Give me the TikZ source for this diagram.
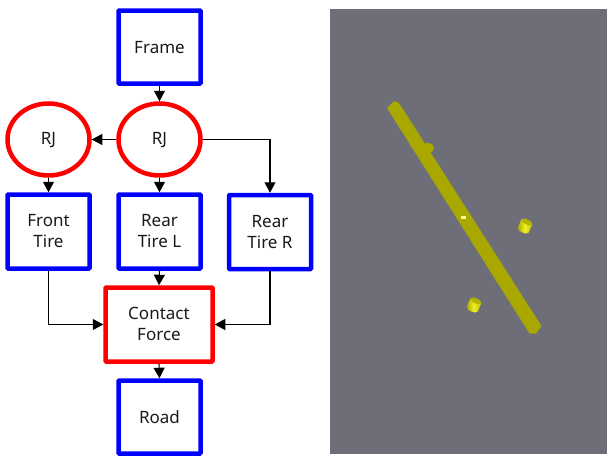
\documentclass[tikz,border=0pt]{standalone}
\usepackage{fontspec}
\setmainfont{Noto Sans}
\usetikzlibrary{arrows.meta,positioning,calc,shapes.geometric}
\definecolor{panelgrey}{HTML}{6E6E78}
\definecolor{barolive}{HTML}{A8A800}
\definecolor{cyldark}{HTML}{A0A000}
\definecolor{cyllight}{HTML}{F0F020}
\definecolor{cylcap}{HTML}{B4B400}
\tikzset{
  blockbase/.style={draw,line width=4.5pt,rounded corners=0.8pt,align=center,inner sep=0pt,text=black!90,font=\fontsize{17}{21}\selectfont},
  bluebox/.style={blockbase,draw=blue},
  redbox/.style={blockbase,draw=red},
  redellipse/.style={blockbase,draw=red,shape=ellipse,rounded corners=0pt},
  link/.style={line width=1.1pt,draw=black,-{Triangle[length=10.5pt,width=11pt]}},
}
\newcommand{\lowered}[1]{\raisebox{-1pt}[\height][\depth]{#1}}
\newcommand{\lowertwo}[2]{\raisebox{-1.5pt}[\height][\depth]{\begin{tabular}{@{}c@{}}#1\\#2\end{tabular}}}
\newcommand{\cyl}[2]{%
  \begin{scope}[shift={(#1,#2)},rotate=-24]
    \path[left color=cyldark,right color=cyldark!60!cyllight,middle color=cyllight]
      (-6,-4.5) -- (-6,4.5) arc[start angle=180,end angle=0,x radius=6,y radius=2.5] -- (6,-4.5) -- cycle;
    \fill[cylcap] (0,-4.5) ellipse[x radius=6,y radius=2.5];
  \end{scope}}
\begin{document}
\begin{tikzpicture}[x=1pt,y=-1pt]
\useasboundingbox (0,0) rectangle (607,455);
\fill[panelgrey] (330,9) rectangle (607,454);
% scene
\fill[barolive] (428,148) ellipse[x radius=6,y radius=5];
\fill[barolive] (387,108) -- (394,101) -- (399,103) -- (541.5,326) -- (536,333.5) -- (529.5,333.5) -- cycle;
\fill[yellow!40!white] (461,216) rectangle (465.5,219);
\cyl{525}{226}
\cyl{474}{305}
% blocks
\node[bluebox,minimum width=82pt,minimum height=73pt] (frame) at (159.5,47) {\lowered{Frame}};
\node[redellipse,minimum width=82pt,minimum height=72pt] (rjc) at (159.5,139.5) {\lowered{RJ}};
\node[redellipse,minimum width=82pt,minimum height=72pt] (rjl) at (48.5,139.5) {\lowered{RJ}};
\node[bluebox,minimum width=82pt,minimum height=74pt] (front) at (48.5,231.5) {\lowertwo{Front}{Tire}};
\node[bluebox,minimum width=82pt,minimum height=74pt] (rearl) at (159.5,231.5) {\lowertwo{Rear}{Tire L}};
\node[bluebox,minimum width=82pt,minimum height=74pt] (rearr) at (270,232) {\lowertwo{Rear}{Tire R}};
\node[redbox,minimum width=107pt,minimum height=74pt] (contact) at (159,324.5) {\lowertwo{Contact}{Force}};
\node[bluebox,minimum width=82pt,minimum height=73pt] (road) at (159.5,417) {Road};
% connectors
\draw[link] (frame.south) -- (rjc.north);
\draw[link] (rjc.west) -- (rjl.east);
\draw[link] (rjc.east) -| (rearr.north);
\draw[link] (rjl.south) -- (front.north);
\draw[link] (rjc.south) -- (rearl.north);
\draw[link] (rearl.south) -- (contact.north);
\draw[link] (front.south) |- (contact.west);
\draw[link] (rearr.south) |- (contact.east);
\draw[link] (contact.south) -- (road.north);
\end{tikzpicture}
\end{document}
